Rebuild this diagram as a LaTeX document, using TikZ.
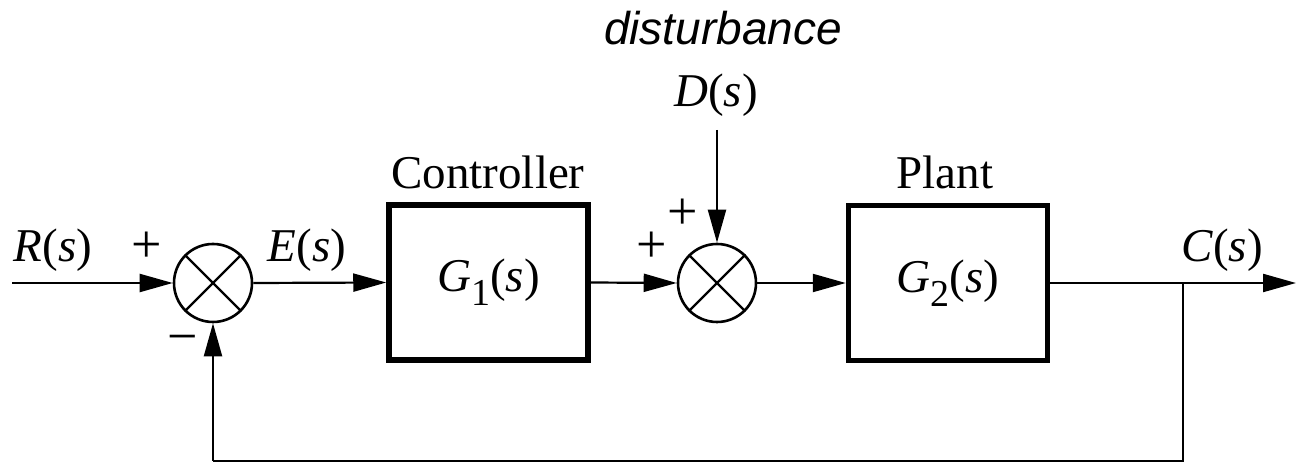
\documentclass[tikz,border=0pt]{standalone}
\usepackage{fontspec}
\setmainfont{Liberation Serif}
\newfontfamily\dsans{Liberation Sans}
\usetikzlibrary{arrows.meta}
\newcommand\mysub[1]{\raisebox{-0.3em}{\fontsize{38}{38}\selectfont #1}}
\begin{document}
\begin{tikzpicture}[x=1pt,y=1pt,
  lbl/.style={font=\fontsize{47}{50}\selectfont, inner sep=0pt},
  sgn/.style={font=\fontsize{54}{56}\selectfont, inner sep=0pt},
  blk/.style={draw, line width=5.5pt, minimum width=199pt, minimum height=155pt, inner sep=0pt, font=\fontsize{47}{50}\selectfont},
  sumj/.style={draw, circle, line width=2.6pt, minimum size=78pt, inner sep=0pt},
  sig/.style={line width=2.2pt},
  arr/.style={sig, -{Triangle[length=33pt,width=18pt]}}
]
\useasboundingbox (0,0) rectangle (1296,463);
% nodes
\coordinate (in) at (12,180);
\node[sumj] (s1) at (213,180) {};
\node[blk] (g1) at (488.5,180.5) {\textit{G}\mysub{1}(\textit{s})};
\node[sumj] (s2) at (717,180) {};
\node[blk] (g2) at (948,180) {\textit{G}\mysub{2}(\textit{s})};
\coordinate (br) at (1183,180);
\coordinate (out) at (1296,180);
\coordinate (fbr) at (1183,2);
\coordinate (fbl) at (213,2);
\coordinate (dtop) at (717,333);
% crosses
\draw[line width=2.4pt] (s1.45) -- (s1.225) (s1.135) -- (s1.315);
\draw[line width=2.4pt] (s2.45) -- (s2.225) (s2.135) -- (s2.315);
% labels
\node[font=\dsans\itshape\fontsize{46}{48}\selectfont, inner sep=0pt] (dist) at (723,435) {disturbance};
\node[lbl] (dl) at (716,368) {\textit{D}(\textit{s})};
\node[lbl] (ctl) at (488,291) {Controller};
\node[lbl] (plt) at (945,291) {Plant};
\node[lbl] (rl) at (53,213) {\textit{R}(\textit{s})};
\node[lbl] (el) at (307,213) {\textit{E}(\textit{s})};
\node[lbl] (cl) at (1222,213) {\textit{C}(\textit{s})};
\node[sgn] (p1) at (147,216) {+};
\node[sgn] (m1) at (183,118) {−};
\node[sgn] (p2) at (652,216) {+};
\node[sgn] (p3) at (683,249) {+};
% connectors
\draw[arr] (in) -- (s1.west);
\draw[arr] (s1.east) -- (g1.west);
\draw[arr] (g1.east) -- (s2.west);
\draw[arr] (dtop) -- (s2.north);
\draw[arr] (s2.east) -- (g2.west);
\draw[arr] (g2.east) -- (out);
\draw[sig] (br) -- (fbr) -- (fbl);
\draw[arr] (fbl) -- (s1.south);
\end{tikzpicture}
\end{document}
